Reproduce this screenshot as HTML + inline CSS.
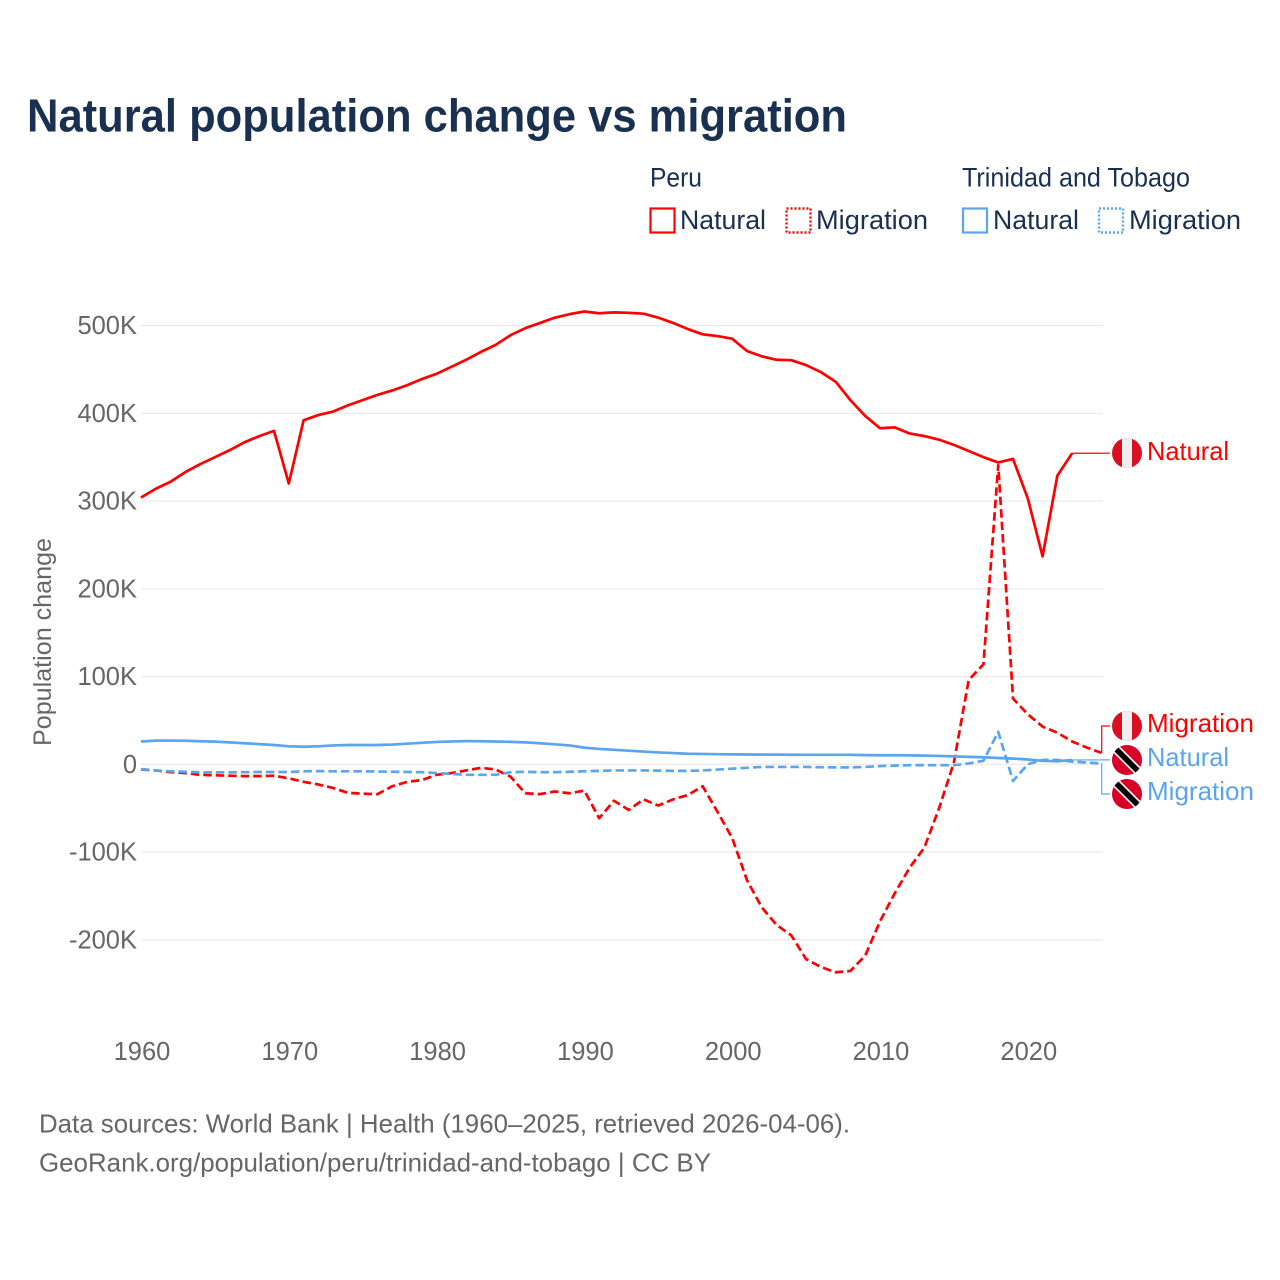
<!DOCTYPE html>
<html lang="en">
<head>
<meta charset="utf-8">
<title>Natural population change vs migration</title>
<style>
html,body{margin:0;padding:0;background:#fff;width:1280px;height:1280px;overflow:hidden}
svg{display:block}
text{font-family:"Liberation Sans",sans-serif}
</style>
</head>
<body>
<svg id="chart" xmlns="http://www.w3.org/2000/svg" width="1280" height="1280" viewBox="0 0 1280 1280">
  <rect x="0" y="0" width="1280" height="1280" fill="#fff"/>
  <text x="27" y="131.5" font-size="46" font-weight="700" fill="#1a3050" textLength="820" lengthAdjust="spacingAndGlyphs">Natural population change vs migration</text>

  <g fill="#1a3050" font-size="26.5">
    <text x="650" y="186.5" textLength="52" lengthAdjust="spacingAndGlyphs">Peru</text>
    <text x="962" y="186.5" textLength="228" lengthAdjust="spacingAndGlyphs">Trinidad and Tobago</text>
    <rect x="650.5" y="208.5" width="24" height="24" fill="none" stroke="#ff0000" stroke-width="2.2"/>
    <text x="680" y="229" textLength="86" lengthAdjust="spacingAndGlyphs">Natural</text>
    <rect x="786.5" y="208.5" width="24" height="24" fill="none" stroke="#ff0000" stroke-width="2.4" stroke-dasharray="2 2"/>
    <text x="816" y="229" textLength="112" lengthAdjust="spacingAndGlyphs">Migration</text>
    <rect x="963" y="208.5" width="24" height="24" fill="none" stroke="#5ba4ee" stroke-width="2.2"/>
    <text x="993" y="229" textLength="86" lengthAdjust="spacingAndGlyphs">Natural</text>
    <rect x="1099" y="208.5" width="24" height="24" fill="none" stroke="#5ba4ee" stroke-width="2.4" stroke-dasharray="2 2"/>
    <text x="1129" y="229" textLength="112" lengthAdjust="spacingAndGlyphs">Migration</text>
  </g>

  <g id="grid"></g>
  <g id="yticks" fill="#666" font-size="25.5" text-anchor="end"></g>
  <g id="xticks" fill="#666" font-size="25.5" text-anchor="middle"></g>
  <text transform="translate(51,642) rotate(-90)" text-anchor="middle" fill="#666" font-size="25" textLength="208" lengthAdjust="spacingAndGlyphs">Population change</text>

  <g id="series" fill="none" stroke-width="2.7" stroke-linejoin="round"></g>
  <g id="connectors" fill="none" stroke-width="1.2"></g>

  <defs>
    <clipPath id="fc1"><circle cx="1127" cy="453" r="15"/></clipPath>
    <clipPath id="fc2"><circle cx="1127" cy="726" r="15"/></clipPath>
    <clipPath id="fc3"><circle cx="1127" cy="760" r="15"/></clipPath>
    <clipPath id="fc4"><circle cx="1127" cy="794" r="15"/></clipPath>
  </defs>
  <g clip-path="url(#fc1)">
    <rect x="1112" y="438" width="30" height="30" fill="#d91023"/><rect x="1122" y="438" width="10" height="30" fill="#eee"/>
  </g>
  <g clip-path="url(#fc2)">
    <rect x="1112" y="711" width="30" height="30" fill="#d91023"/><rect x="1122" y="711" width="10" height="30" fill="#eee"/>
  </g>
  <g clip-path="url(#fc3)">
    <rect x="1112" y="745" width="30" height="30" fill="#d80027"/>
    <line x1="1114" y1="747" x2="1140" y2="773" stroke="#eee" stroke-width="9"/>
    <line x1="1114" y1="747" x2="1140" y2="773" stroke="#000" stroke-width="5.5"/>
  </g>
  <g clip-path="url(#fc4)">
    <rect x="1112" y="779" width="30" height="30" fill="#d80027"/>
    <line x1="1114" y1="781" x2="1140" y2="807" stroke="#eee" stroke-width="9"/>
    <line x1="1114" y1="781" x2="1140" y2="807" stroke="#000" stroke-width="5.5"/>
  </g>

  <g font-size="26">
    <text x="1147" y="460" fill="#ff0000" textLength="82" lengthAdjust="spacingAndGlyphs">Natural</text>
    <text x="1147" y="732" fill="#ff0000" textLength="107" lengthAdjust="spacingAndGlyphs">Migration</text>
    <text x="1147" y="766" fill="#5ba4ee" textLength="82" lengthAdjust="spacingAndGlyphs">Natural</text>
    <text x="1147" y="800" fill="#5ba4ee" textLength="107" lengthAdjust="spacingAndGlyphs">Migration</text>
  </g>

  <g fill="#666" font-size="26">
    <text x="39" y="1132.5" textLength="811" lengthAdjust="spacingAndGlyphs">Data sources: World Bank | Health (1960–2025, retrieved 2026-04-06).</text>
    <text x="39" y="1171.5" textLength="672" lengthAdjust="spacingAndGlyphs">GeoRank.org/population/peru/trinidad-and-tobago | CC BY</text>
  </g>
</svg>
<script>
// Values are in thousands of people; each series starts at startYear.
const startYear = 1960;
const xTickYears = [1960, 1970, 1980, 1990, 2000, 2010, 2020];
const yTickValues = [500, 400, 300, 200, 100, 0, -100, -200];
const yTickLabels = ["500K", "400K", "300K", "200K", "100K", "0", "-100K", "-200K"];

const peruNatural = [304, 314, 322, 333, 342, 350, 358, 367, 374, 380,
  320, 392, 398, 402, 409, 415, 421, 426, 432, 439,
  445, 453, 461, 470, 478, 489, 497, 503, 509, 513,
  516, 514, 515, 514.5, 513.5, 509, 503, 496, 490, 488,
  485, 471, 465, 461, 460.5, 455, 447, 436, 415, 397,
  383, 384, 377, 374, 370, 364, 357, 350, 344, 348,
  303, 237, 329, 354.5];
const peruMigration = [-6, -7, -9, -10, -12, -12.5, -13, -13.5, -13.5, -13,
  -16, -20, -23, -27, -32.5, -33.5, -34, -25, -20, -18,
  -12, -10, -7, -4, -6, -14, -33, -34, -31, -33,
  -30, -61.5, -41.5, -52, -40, -47, -40, -35, -25, -54,
  -84, -132, -163, -183, -195, -222, -231, -237, -235.5, -218,
  -179, -147, -118, -95, -50, 2, 96, 114, 341, 75,
  57, 43, 36, 26, 19, 13];
const ttNatural = [26, 27, 27, 26.8, 26.3, 25.8, 25, 24, 23, 22,
  20.5, 20, 20.5, 21.5, 22, 22, 22, 22.5, 23.5, 24.5,
  25.5, 26, 26.5, 26.3, 26, 25.6, 25, 24, 22.8, 21.5,
  19, 17.5, 16.5, 15.5, 14.5, 13.5, 12.8, 12, 11.8, 11.5,
  11.3, 11.2, 11, 11, 10.9, 10.8, 10.8, 10.8, 10.8, 10.5,
  10.3, 10.3, 10.2, 9.9, 9.5, 9, 8.5, 8, 7.2, 6.5,
  5.5, 4, 3.5, 5];
const ttMigration = [-5.5, -7, -8, -8.5, -9, -9.2, -9.2, -9, -8.8, -8.8,
  -8.8, -8, -7.7, -8, -8, -8, -8.2, -8.5, -8.7, -9,
  -10, -11, -12, -12, -12, -9, -8.5, -9, -9, -8.5,
  -8, -7.5, -7, -7, -7, -7.2, -7.5, -7.5, -7, -6,
  -5, -4, -3, -3, -3, -3, -3.3, -3.5, -3.5, -3,
  -2, -1.5, -1, -1, -1, -1, 1, 4, 37, -19,
  0, 5, 5, 3, 2, 1];

const NS = "http://www.w3.org/2000/svg";
const RED = "#ff0000";
const BLUE = "#5ba4ee";
const xScale = function (year) { return 141 + (year - startYear) * 14.78; };
const yScale = function (v) { return 764.3 - v * 0.8775; };

const gridGroup = document.getElementById("grid");
const yGroup = document.getElementById("yticks");
const xGroup = document.getElementById("xticks");
const seriesGroup = document.getElementById("series");
const connGroup = document.getElementById("connectors");

yTickValues.forEach(function (v, i) {
  const line = document.createElementNS(NS, "line");
  
  
  line.setAttribute("x1", xScale(startYear));
  line.setAttribute("x2", xScale(2025) + 1);
  line.setAttribute("y1", yScale(v));
  line.setAttribute("y2", yScale(v));
  line.setAttribute("stroke", "#e8e8e8");
  line.setAttribute("stroke-width", "1.2");
  gridGroup.appendChild(line);

  const label = document.createElementNS(NS, "text");
  
  
  label.setAttribute("x", 137);
  label.setAttribute("y", yScale(v) + 8.5);
  label.textContent = yTickLabels[i];
  yGroup.appendChild(label);
});

xTickYears.forEach(function (year) {
  const label = document.createElementNS(NS, "text");
  
  
  label.setAttribute("x", xScale(year) + 1);
  label.setAttribute("y", 1060);
  label.textContent = String(year);
  xGroup.appendChild(label);
});

function seriesPoints(values) {
  return values.map(function (v, i) {
    return xScale(startYear + i).toFixed(2) + "," + yScale(v).toFixed(2);
  }).join(" ");
}

function drawSeries(values, color, dashed, name) {
  const line = document.createElementNS(NS, "polyline");
  
  
  line.setAttribute("points", seriesPoints(values));
  line.setAttribute("stroke", color);
  if (dashed) line.setAttribute("stroke-dasharray", "8.5 4");
  seriesGroup.appendChild(line);
}

function drawConnector(values, color, labelY, name) {
  const lastX = xScale(startYear + values.length - 1);
  const lastY = yScale(values[values.length - 1]);
  const path = document.createElementNS(NS, "polyline");
  
  
  path.setAttribute("points", lastX + "," + lastY + " 1101.7," + lastY + " 1101.7," + labelY + " 1110," + labelY);
  path.setAttribute("stroke", color);
  connGroup.appendChild(path);
}

drawSeries(peruNatural, RED, false, "line-peru-natural");
drawSeries(peruMigration, RED, true, "line-peru-migration");
drawSeries(ttNatural, BLUE, false, "line-tt-natural");
drawSeries(ttMigration, BLUE, true, "line-tt-migration");

drawConnector(peruNatural, RED, 453.2, "connector-peru-natural");
drawConnector(peruMigration, RED, 726, "connector-peru-migration");
drawConnector(ttNatural, BLUE, 759.9, "connector-tt-natural");
drawConnector(ttMigration, BLUE, 794, "connector-tt-migration");
</script>
</body>
</html>
